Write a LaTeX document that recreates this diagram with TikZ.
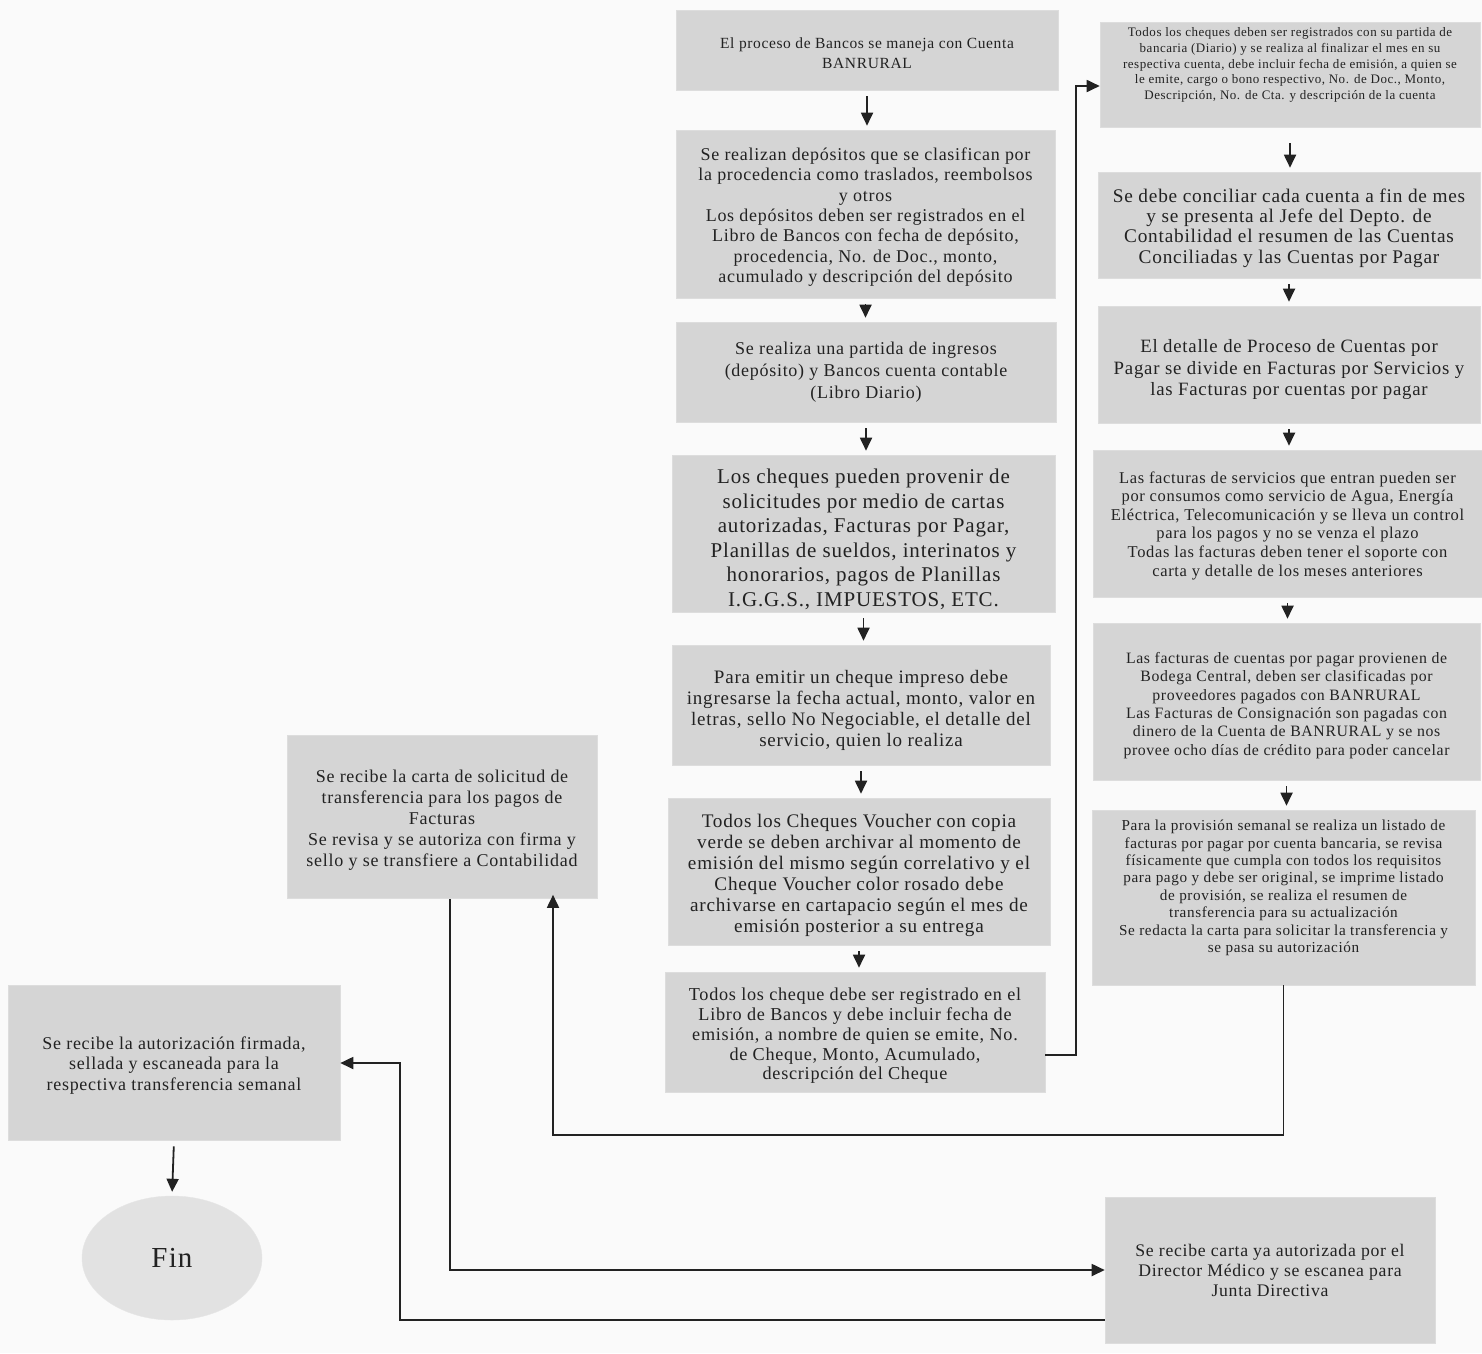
\documentclass[tikz,border=0pt]{standalone}
\usepackage{fontspec}
\setmainfont{Liberation Serif}[LetterSpace=4]
\usetikzlibrary{arrows.meta,shapes.geometric}
\definecolor{boxgray}{RGB}{213,213,213}
\definecolor{ink}{RGB}{34,34,34}
\definecolor{bg}{RGB}{250,250,250}
\definecolor{fingray}{RGB}{226,226,226}
\newcommand{\fs}[2]{\fontsize{#1}{#2}\selectfont}
\tikzset{
  pbox/.style={fill=boxgray, draw=boxgray!80, line width=0.6pt, inner sep=0pt},
  ptext/.style={align=center, text=ink, inner sep=0pt},
  conn/.style={draw=ink, line width=1.8pt, -{Triangle[length=13pt,width=12pt]}},
  vflow/.style={conn, shorten <=6pt, shorten >=4pt}
}
\begin{document}
\begin{tikzpicture}[x=1pt,y=-1pt]
\fill[bg] (0,0) rectangle (1482,1353);
\useasboundingbox (0,0) rectangle (1482,1353);

% ---------- middle column ----------
\node[pbox, minimum width=382pt, minimum height=80pt] (B1) at (867,50) {};
\node[ptext, font={\fs{15.5}{20}}, yshift=-3pt] (B1t) at (B1.center)
  {El proceso de Bancos se maneja con Cuenta\\BANRURAL};

\node[pbox, minimum width=379pt, minimum height=168pt] (B2) at (865.5,214) {};
\node[ptext, font={\fs{18}{20.4}}, yshift=-3pt] (B2t) at (B2.center)
  {Se realizan depósitos que se clasifican por\\la procedencia como traslados, reembolsos\\y otros\\Los depósitos deben ser registrados en el\\Libro de Bancos con fecha de depósito,\\procedencia, No. de Doc., monto,\\acumulado y descripción del depósito};

\node[pbox, minimum width=380pt, minimum height=100pt] (B3) at (866,372) {};
\node[ptext, font={\fs{18}{22}}] (B3t) at (B3.center)
  {Se realiza una partida de ingresos\\(depósito) y Bancos cuenta contable\\(Libro Diario)};

\node[pbox, minimum width=383pt, minimum height=157pt] (B4) at (863.5,533.5) {};
\node[ptext, font={\fs{21}{24.5}}, yshift=-6pt] (B4t) at (B4.center)
  {Los cheques pueden provenir de\\solicitudes por medio de cartas\\autorizadas, Facturas por Pagar,\\Planillas de sueldos, interinatos y\\honorarios, pagos de Planillas\\I.G.G.S., IMPUESTOS, ETC.};

\node[pbox, minimum width=378pt, minimum height=120pt] (B5) at (861,705) {};
\node[ptext, font={\fs{19}{21}}, yshift=-5pt] (B5t) at (B5.center)
  {Para emitir un cheque impreso debe\\ingresarse la fecha actual, monto, valor en\\letras, sello No Negociable, el detalle del\\servicio, quien lo realiza};

\node[pbox, minimum width=382pt, minimum height=147pt] (B6) at (859,871.5) {};
\node[ptext, font={\fs{19.2}{21}}, yshift=-4pt] (B6t) at (B6.center)
  {Todos los Cheques Voucher con copia\\verde se deben archivar al momento de\\emisión del mismo según correlativo y el\\Cheque Voucher color rosado debe\\archivarse en cartapacio según el mes de\\emisión posterior a su entrega};

\node[pbox, minimum width=380pt, minimum height=120pt] (B7) at (855,1032) {};
\node[ptext, font={\fs{18.2}{19.8}}, yshift=-4pt] (B7t) at (B7.center)
  {Todos los cheque debe ser registrado en el\\Libro de Bancos y debe incluir fecha de\\emisión, a nombre de quien se emite, No.\\de Cheque, Monto, Acumulado,\\descripción del Cheque};

% ---------- right column ----------
\node[pbox, minimum width=380pt, minimum height=105pt] (R1) at (1290,74.5) {};
\node[ptext, font={\fs{13}{15.6}}] (R1t) at (1290,65)
  {Todos los cheques deben ser registrados con su partida de\\bancaria (Diario) y se realiza al finalizar el mes en su\\respectiva cuenta, debe incluir fecha de emisión, a quien se\\le emite, cargo o bono respectivo, No. de Doc., Monto,\\Descripción, No. de Cta. y descripción de la cuenta};

\node[pbox, minimum width=382pt, minimum height=106pt] (R2) at (1289,225) {};
\node[ptext, font={\fs{19.3}{20.4}}, yshift=-3pt] (R2t) at (R2.center)
  {Se debe conciliar cada cuenta a fin de mes\\y se presenta al Jefe del Depto. de\\Contabilidad el resumen de las Cuentas\\Conciliadas y las Cuentas por Pagar};

\node[pbox, minimum width=382pt, minimum height=117pt] (R3) at (1289,364.5) {};
\node[ptext, font={\fs{18.8}{21.5}}, yshift=-5pt] (R3t) at (R3.center)
  {El detalle de Proceso de Cuentas por\\Pagar se divide en Facturas por Servicios y\\las Facturas por cuentas por pagar};

\node[pbox, minimum width=389pt, minimum height=147pt] (R4) at (1287.5,523.5) {};
\node[ptext, font={\fs{16.5}{18.6}}, yshift=-2pt] (R4t) at (R4.center)
  {Las facturas de servicios que entran pueden ser\\por consumos como servicio de Agua, Energía\\Eléctrica, Telecomunicación y se lleva un control\\para los pagos y no se venza el plazo\\Todas las facturas deben tener el soporte con\\carta y detalle de los meses anteriores};

\node[pbox, minimum width=387pt, minimum height=157pt] (R5) at (1286.5,701.5) {};
\node[ptext, font={\fs{15.8}{18.3}}, yshift=-4pt] (R5t) at (R5.center)
  {Las facturas de cuentas por pagar provienen de\\Bodega Central, deben ser clasificadas por\\proveedores pagados con BANRURAL\\Las Facturas de Consignación son pagadas con\\dinero de la Cuenta de BANRURAL y se nos\\provee ocho días de crédito para poder cancelar};

\node[pbox, minimum width=383pt, minimum height=175pt] (R6) at (1283.5,897.5) {};
\node[ptext, font={\fs{15.2}{17.4}}] (R6t) at (1283.5,888)
  {Para la provisión semanal se realiza un listado de\\facturas por pagar por cuenta bancaria, se revisa\\físicamente que cumpla con todos los requisitos\\para pago y debe ser original, se imprime listado\\de provisión, se realiza el resumen de\\transferencia para su actualización\\Se redacta la carta para solicitar la transferencia y\\se pasa su autorización};

\node[pbox, minimum width=330pt, minimum height=146pt] (R7) at (1270,1270) {};
\node[ptext, font={\fs{17.7}{20}}] (R7t) at (R7.center)
  {Se recibe carta ya autorizada por el\\Director Médico y se escanea para\\Junta Directiva};

% ---------- left ----------
\node[pbox, minimum width=310pt, minimum height=163pt] (L1) at (442,817) {};
\node[ptext, font={\fs{18}{21}}, yshift=-3pt] (L1t) at (L1.center)
  {Se recibe la carta de solicitud de\\transferencia para los pagos de\\Facturas\\Se revisa y se autoriza con firma y\\sello y se transfiere a Contabilidad};

\node[pbox, minimum width=332pt, minimum height=155pt] (L2) at (174,1062.5) {};
\node[ptext, font={\fs{18}{20.5}}, yshift=-3pt] (L2t) at (L2.center)
  {Se recibe la autorización firmada,\\sellada y escaneada para la\\respectiva transferencia semanal};

\node[ellipse, fill=fingray, draw=fingray!85, minimum width=180pt, minimum height=124pt, text=ink, inner sep=0pt, font={\fs{29}{32}}] (Fin) at (172,1258)
  {Fin};

% ---------- junction coordinates ----------
\coordinate (j1) at (1076,1055);
\coordinate (j2) at (1076,86);
\coordinate (k1) at (1285,1135);
\coordinate (k2) at (553,1135);
\coordinate (m1) at (450,1270);
\coordinate (n1) at (400,1320);
\coordinate (n2) at (400,1063);

% ---------- vertical flow arrows ----------
\draw[vflow] (B1.south) -- (B1.south |- B2.north);
\draw[vflow] (B2.south) -- (B2.south |- B3.north);
\draw[vflow] (B3.south) -- (B3.south |- B4.north);
\draw[vflow] (B4.south) -- (B4.south |- B5.north);
\draw[vflow] (B5.south) -- (B5.south |- B6.north);
\draw[vflow] (B6.south) -- (B6.south |- B7.north);
\draw[vflow, shorten <=16pt] (R1.south) -- (R1.south |- R2.north);
\draw[vflow] (R2.south) -- (R2.south |- R3.north);
\draw[vflow] (R3.south) -- (R3.south |- R4.north);
\draw[vflow] (R4.south) -- (R4.south |- R5.north);
\draw[vflow] (R5.south) -- (R5.south |- R6.north);
\draw[vflow] (L2.south) -- (Fin.north);

% ---------- routed connectors ----------
\draw[conn, line join=miter] (B7.east |- j1) -- (j1) -- (j2) -- (R1.west |- j2);
\draw[conn, line join=miter] (R6.south) -- (R6.south |- k1) -- (k2) -- ([yshift=4pt]k2 |- L1.south);
\draw[conn, line join=miter] (m1 |- L1.south) -- (m1) -- (R7.west);
\draw[conn, line join=miter] (R7.west |- n1) -- (n1) -- (n2) -- (L2.east |- n2);
\end{tikzpicture}
\end{document}
